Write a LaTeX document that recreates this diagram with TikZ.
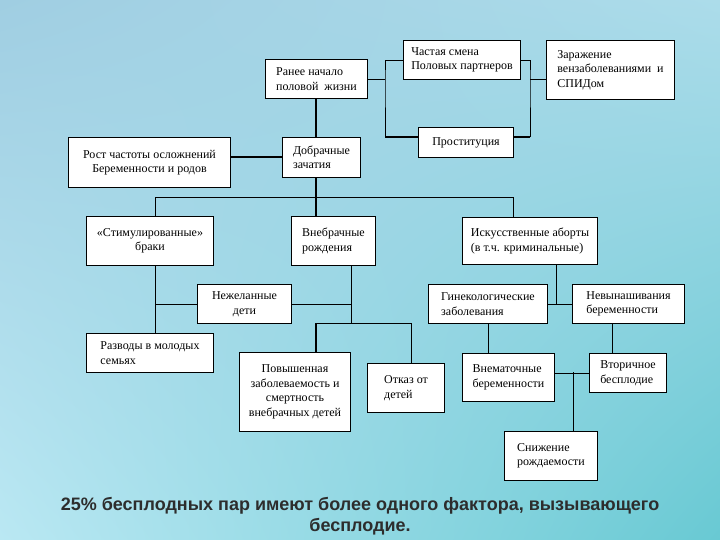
\documentclass[tikz,border=0pt]{standalone}
\usepackage{fontspec}
\setmainfont{Liberation Serif}
\newfontfamily\notefont{Liberation Sans}
\usetikzlibrary{positioning,shadings}

\definecolor{bgtl}{RGB}{160,206,226}
\definecolor{bgtr}{RGB}{172,220,234}
\definecolor{bgbl}{RGB}{186,232,243}
\definecolor{bgbr}{RGB}{104,201,211}
\definecolor{notegray}{RGB}{45,45,45}

\tikzset{
  blk/.style={draw, fill=white, line width=1pt, inner xsep=4pt, inner ysep=2pt,
    anchor=north west, align=left, font=\fontsize{12}{14.5}\selectfont},
  lnk/.style={line width=0.8pt},
  thk/.style={line width=2pt},
}

\begin{document}
\begin{tikzpicture}[x=1pt,y=-1pt]
\shade[upper left=bgtl, upper right=bgtr, lower left=bgbl, lower right=bgbr] (0,0) rectangle (720,540);
\useasboundingbox (0,0) rectangle (720,540);

\node[blk, minimum width=102, minimum height=39] (ranee) at (265,59) {Ранее начало\\половой\ \ жизни};
\node[blk, minimum width=117, minimum height=39] (chast) at (403,40) {Частая смена\\Половых партнеров};
\node[blk, minimum width=128, minimum height=59] (zaraz) at (546,40) {Заражение\\вензаболеваниями\ \ и\\СПИДом};
\node[blk, minimum width=95, minimum height=30] (prost) at (418,127) {Проституция};
\node[blk, align=center, minimum width=162, minimum height=50] (rost) at (68,137) {Рост частоты осложнений\\Беременности и родов};
\node[blk, minimum width=78, minimum height=40] (dobr) at (282,137) {Добрачные\\зачатия};
\node[blk, align=center, minimum width=127, minimum height=49] (stim) at (86,216) {«Стимулированные»\\браки};
\node[blk, minimum width=84, minimum height=49] (vnebr) at (291,216) {Внебрачные\\рождения};
\node[blk, minimum width=135, minimum height=47] (isk) at (462,217) {Искусственные аборты\\(в т.ч. криминальные)};
\node[blk, align=center, minimum width=94, minimum height=39] (nezh) at (197,284) {Нежеланные\\дети};
\node[blk, minimum width=127, minimum height=39] (razv) at (86,333) {Разводы в молодых\\семьях};
\node[blk, align=center, minimum width=111, minimum height=79] (povysh) at (239,352) {Повышенная\\заболеваемость и\\смертность\\внебрачных детей};
\node[blk, minimum width=77, minimum height=49] (otkaz) at (367,363) {Отказ от\\детей};
\node[blk, minimum width=119, minimum height=39] (gin) at (428,284) {Гинекологические\\заболевания};
\node[blk, minimum width=112, minimum height=39] (nev) at (572,284) {Невынашивания\\беременности};
\node[blk, minimum width=92, minimum height=48] (vnem) at (462,353) {Внематочные\\беременности};
\node[blk, minimum width=77, minimum height=39] (vtor) at (589,353) {Вторичное\\бесплодие};
\node[blk, minimum width=93, minimum height=49] (snizh) at (504,431) {Снижение\\рождаемости};

\node[font=\notefont\bfseries\fontsize{18}{21}\selectfont, text=notegray, align=center] (note) at (360,516) {25\% бесплодных пар имеют более одного фактора, вызывающего\\бесплодие.};

\coordinate (jl) at (385,79);
\coordinate (jr) at (530,79);
\coordinate (ax) at (316,197);
\coordinate (busl) at (155,197);
\coordinate (busr) at (513,197);
\coordinate (jv) at (351,323);
\coordinate (ja) at (556,304);
\coordinate (js) at (573,372);
\coordinate (prl) at ([yshift=5]prost.west);
\coordinate (prr) at ([yshift=5]prost.east);

\draw[lnk] (ranee.east) -- (jl);
\draw[lnk] (chast.west) -| (jl) -- (jl |- prl);
\draw[thk] (jl |- prl) -- (prl);
\draw[lnk] (chast.east) -| (jr) -- (jr |- prr);
\draw[thk] (jr |- prr) -- (prr);
\draw[lnk] (jr) -- (zaraz.west |- jr);

\draw[thk] (ax |- ranee.south) -- (ax |- dobr.north);
\draw[thk] (rost.east |- dobr.west) -- (dobr.west);
\draw[thk] (ax |- dobr.south) -- (ax |- vnebr.north);
\draw[lnk] (busl |- stim.north) |- (busr) -- (busr |- isk.north);

\draw[lnk] (busl |- stim.south) -- (busl |- razv.north);
\draw[lnk] (busl |- nezh.west) -- (nezh.west);
\draw[lnk] (nezh.east) -- (nezh.east -| jv);
\draw[lnk] (jv |- vnebr.south) -- (jv);
\draw[lnk] (ax |- jv) -| ([xshift=5]otkaz.north);
\draw[thk] (ax |- jv) -- (ax |- povysh.north);

\draw[lnk] (ja |- isk.south) -- (ja);
\draw[lnk] (gin.east) -- (nev.west);
\draw[lnk] (gin.south) -- (gin.south |- vnem.north);
\draw[lnk] ([xshift=-16]nev.south) -- ([xshift=-16]nev.south |- vtor.north);
\draw[lnk] (vnem.east |- vtor.west) -- (vtor.west);
\draw[lnk] (js) -- (js |- snizh.north);
\end{tikzpicture}
\end{document}
